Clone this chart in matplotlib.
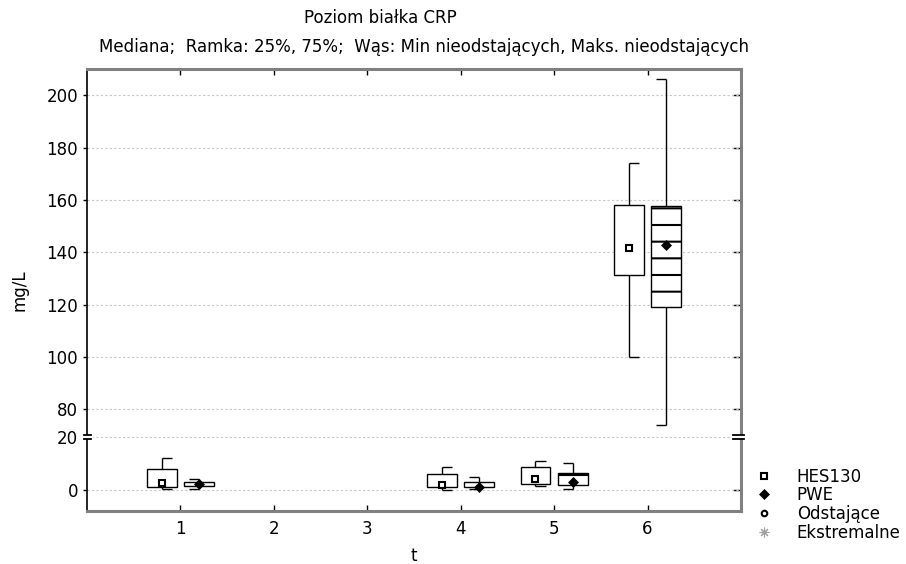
import numpy as np
import matplotlib
matplotlib.use("Agg")
import matplotlib.pyplot as plt
from matplotlib.lines import Line2D

plt.rcParams['font.family'] = ['DejaVu Sans']
plt.rcParams['font.size'] = 12
plt.rcParams['hatch.linewidth'] = 1.5

# Time points and per-group box statistics (mg/L)
t_points = [1, 2, 3, 4, 5, 6]
nan = np.nan

hes_q1 = [1.1, nan, nan, 0.9, 2.4, 131.3]
hes_q3 = [7.8, nan, nan, 6.0, 8.6, 158.1]
hes_med = [2.5, nan, nan, 1.8, 4.0, 141.8]
hes_lo = [0.5, nan, nan, 0.1, 1.5, 100.0]
hes_hi = [12.0, nan, nan, 8.6, 11.1, 174.0]

pwe_q1 = [1.4, nan, nan, 0.9, 1.9, 119.2]
pwe_q3 = [3.1, nan, nan, 2.9, 6.5, 157.7]
pwe_med = [2.2, nan, nan, 1.2, 2.9, 142.8]
pwe_lo = [0.5, nan, nan, 0.3, 0.5, 74.0]
pwe_hi = [4.1, nan, nan, 5.0, 10.3, 206.0]

upper_ticks = [80, 100, 120, 140, 160, 180, 200]
lower_ticks = [0, 20]

W, H = 906, 564
fig = plt.figure(figsize=(W / 100, H / 100), dpi=100)

left = 87 / W
width = (741 - 87) / W
y_top, y_break, y_bot = 69, 437, 511
ax_up = fig.add_axes([left, 1 - y_break / H, width, (y_break - y_top) / H])
ax_lo = fig.add_axes([left, 1 - y_bot / H, width, (y_bot - y_break) / H])

GRAY = '#808080'
off = 0.2
bw = 0.32
cap = 0.11


def draw_series(ax, x, q1, q3, med, lo, hi, side, hatch, marker, mfc, ms):
    x = np.asarray(x, float) + side * off
    q1, q3, med = np.asarray(q1), np.asarray(q3), np.asarray(med)
    lo, hi = np.asarray(lo), np.asarray(hi)
    ok = ~np.isnan(q1)
    x, q1, q3, med, lo, hi = x[ok], q1[ok], q3[ok], med[ok], lo[ok], hi[ok]
    ax.vlines(x, q3, hi, color='black', lw=1.0, zorder=2)
    ax.vlines(x, lo, q1, color='black', lw=1.0, zorder=2)
    # caps point toward the neighbouring box
    cx0 = x if side < 0 else x - cap
    cx1 = x + cap if side < 0 else x
    ax.hlines(hi, cx0, cx1, color='black', lw=1.0, zorder=2)
    ax.hlines(lo, cx0, cx1, color='black', lw=1.0, zorder=2)
    ax.bar(x, q3 - q1, bottom=q1, width=bw, facecolor='white',
           edgecolor='black', lw=1.0, hatch=hatch, zorder=3)
    ax.plot(x, med, ls='none', marker=marker, ms=ms, mfc=mfc,
            mec='black', mew=1.5 if mfc == 'white' else 0.5, zorder=4)


for ax in (ax_up, ax_lo):
    draw_series(ax, t_points, hes_q1, hes_q3, hes_med, hes_lo, hes_hi,
                -1, None, 's', 'white', 5)
    draw_series(ax, t_points, pwe_q1, pwe_q3, pwe_med, pwe_lo, pwe_hi,
                1, '-', 'D', 'black', 5)
    ax.set_xlim(0, 7)
    ax.set_xticks(t_points)
    ax.grid(axis='y', color='#c8c8c8', ls=(0, (2, 2)), lw=0.8)
    ax.set_axisbelow(True)
    ax.spines['left'].set_color('black')
    ax.spines['left'].set_linewidth(1.2)
    ax.spines['right'].set_color(GRAY)
    ax.spines['right'].set_linewidth(2.2)
    ax.tick_params(axis='y', left=True, right=False, direction='out',
                   length=3, width=1, pad=3.5)

ax_up.set_ylim(69.5, 210)
ax_up.set_yticks(upper_ticks)
ax_up.spines['bottom'].set_visible(False)
ax_up.spines['top'].set_color(GRAY)
ax_up.spines['top'].set_linewidth(2.2)
ax_up.tick_params(axis='x', bottom=False, labelbottom=False, top=True,
                  direction='in', length=4, width=1)

ax_lo.set_ylim(-8, 20)
ax_lo.set_yticks(lower_ticks)
ax_lo.spines['top'].set_visible(False)
ax_lo.spines['bottom'].set_color(GRAY)
ax_lo.spines['bottom'].set_linewidth(2.2)
ax_lo.tick_params(axis='x', bottom=True, top=False, direction='in',
                  length=4, width=1, pad=6.5)

# right-hand ticks point inward, without labels
for ax, ticks in ((ax_up, upper_ticks), (ax_lo, [0])):
    sec = ax.secondary_yaxis('right')
    sec.set_yticks(ticks)
    sec.tick_params(axis='y', direction='in', length=6, width=1,
                    labelright=False)
    sec.spines['right'].set_visible(False)

# axis break marks
yb = 1 - y_break / H
for x0, x1 in ((84 / W, 91 / W), (733 / W, 744 / W)):
    fig.add_artist(Line2D([x0, x1], [yb, yb], color='white',
                          lw=3, transform=fig.transFigure))
    for dy in (2.2, -2.2):
        fig.add_artist(Line2D([x0, x1], [yb + dy / H, yb + dy / H],
                              color='black', lw=1.3,
                              transform=fig.transFigure))

fig.text(380 / W, 1 - 18 / H, 'Poziom białka CRP', ha='center', va='center')
fig.text(424 / W, 1 - 47 / H,
         'Mediana;  Ramka: 25%, 75%;  Wąs: Min nieodstających, Maks. nieodstających',
         ha='center', va='center')
fig.text(20 / W, 1 - 290 / H, 'mg/L', rotation=90, ha='center', va='center')
fig.text(414 / W, 1 - 556 / H, 't', ha='center', va='center')

handles = [
    Line2D([], [], ls='none', marker='s', ms=5, mfc='white', mec='black', mew=1.5),
    Line2D([], [], ls='none', marker='D', ms=5, mfc='black', mec='black', mew=0.5),
    Line2D([], [], ls='none', marker='o', ms=4, mfc='white', mec='black', mew=1.5),
    Line2D([], [], ls='none', marker=(8, 2, 0), ms=7, color='#a0a0a0', mew=0.8),
]
labels = ['HES130', 'PWE', 'Odstające', 'Ekstremalne']
fig.legend(handles, labels, loc='upper left',
           bbox_to_anchor=(755.7 / W, 1 - 467.5 / H), frameon=False,
           handlelength=1.0, handletextpad=1.47, labelspacing=0.045,
           borderpad=0, borderaxespad=0)

fig.savefig('out.png', dpi=100)
